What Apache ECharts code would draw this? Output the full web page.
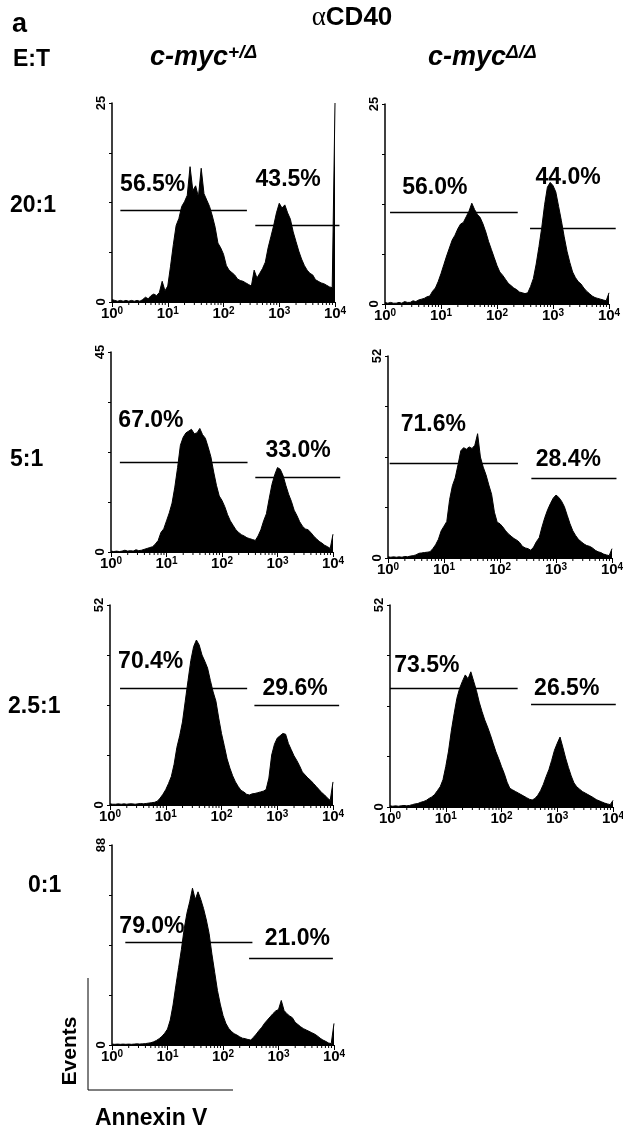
<!DOCTYPE html>
<html><head><meta charset="utf-8">
<script src="https://cdn.jsdelivr.net/npm/echarts@6/dist/echarts.min.js"></script>
<style>html,body{margin:0;padding:0;background:#fff}#c{width:623px;height:1131px}</style>
</head><body><div id="c"></div>
<script>
// ---------------- DATA ----------------
// Annexin V channel, as log10 exponent of the bin centre (10^0 .. 10^4)
const LOG_CHANNEL = [0,0.05,0.1,0.15,0.2,0.25,0.3,0.35,0.4,0.45,0.5,0.55,0.6,0.65,0.7,0.75,0.8,0.85,0.9,0.95,
  1,1.05,1.1,1.15,1.2,1.25,1.3,1.35,1.4,1.45,1.5,1.55,1.6,1.65,1.7,1.75,1.8,1.85,1.9,1.95,
  2,2.05,2.1,2.15,2.2,2.25,2.3,2.35,2.4,2.45,2.5,2.55,2.6,2.65,2.7,2.75,2.8,2.85,2.9,2.95,
  3,3.05,3.1,3.15,3.2,3.25,3.3,3.35,3.4,3.45,3.5,3.55,3.6,3.65,3.7,3.75,3.8,3.85,3.9,3.95,4];

const X_TICK_LABELS = [0, 1, 2, 3, 4];   // 10^n
const ROW_LABELS = ['20:1', '5:1', '2.5:1', '0:1'];
const COLUMN_LABELS = ['+/Δ', 'Δ/Δ'];

// Events per channel
const EV_20_HET = [0.3,0.2,0.1,0.2,0.1,0.2,0.1,0.2,0.1,0.2,
  0.1,0.3,0.6,0.4,0.8,1.0,0.8,1.2,2.6,1.4,
  2.0,4.5,7.2,9.6,10.5,12.0,12.6,13.4,17.0,14.0,
  14.6,13.2,16.8,13.6,12.8,12.0,10.8,9.4,7.4,6.8,
  6.0,4.6,4.0,3.7,3.4,2.9,2.7,2.6,2.4,2.2,
  2.0,4.0,3.0,3.6,4.2,5.0,6.8,8.2,9.6,11.2,
  12.4,11.8,12.2,11.2,10.4,8.8,7.6,6.4,5.4,4.6,
  4.0,3.6,3.4,2.8,2.6,2.4,2.3,2.1,1.9,1.8,
  25];
const EV_20_KO = [0.2,0.1,0.2,0.1,0.1,0.2,0.1,0.3,0.2,0.2,
  0.4,0.3,0.5,0.6,0.7,0.9,1.0,1.6,2.0,2.8,
  3.8,4.9,6.0,7.0,8.0,8.6,9.4,10.0,10.2,10.9,
  11.6,12.6,11.8,11.2,10.8,10.0,9.0,7.8,6.8,5.8,
  4.8,4.0,3.6,3.1,2.6,2.3,2.0,1.8,1.5,1.4,
  1.3,1.4,2.2,3.2,5.0,7.2,9.6,12.4,14.6,15.2,
  14.8,14.0,12.2,10.4,8.4,6.6,5.2,4.0,3.3,2.8,
  2.5,2.0,1.6,1.3,1.0,0.8,0.7,0.6,0.5,0.4,
  1.4];
const EV_5_HET = [0.2,0.1,0.2,0.1,0.2,0.4,0.2,0.3,0.2,0.5,
  0.3,0.4,0.6,0.8,1.0,1.2,1.8,2.6,4.4,5.2,
  7.0,8.8,11.0,14.6,19.0,24.0,25.8,26.8,27.2,27.6,
  26.6,26.8,27.8,26.4,25.6,23.6,21.4,18.0,15.0,12.6,
  11.6,10.2,8.4,7.0,6.0,5.0,4.4,3.9,3.6,3.2,
  3.0,2.8,2.6,3.6,5.0,7.0,8.6,12.0,15.2,17.4,
  19.0,18.6,17.2,15.0,13.0,11.4,9.4,8.2,6.8,5.8,
  5.2,5.0,4.4,3.6,3.0,2.4,2.0,1.5,1.2,0.8,
  4.0];
const EV_5_KO = [0.3,0.2,0.3,0.2,0.3,0.2,0.4,0.3,0.5,0.6,
  0.8,1.2,1.3,1.4,1.5,1.6,2.4,3.4,4.8,7.0,
  8.2,9.4,15.0,18.6,20.6,24.0,27.6,28.4,28.0,28.6,
  28.2,29.0,32.0,26.0,23.4,21.4,18.8,16.4,11.8,9.2,
  8.8,8.0,7.0,6.2,5.6,5.0,4.6,4.0,3.0,2.6,
  2.4,2.0,2.8,4.2,5.2,8.0,10.4,12.4,14.0,15.4,
  16.2,15.6,14.6,13.2,11.0,8.8,7.0,5.8,4.8,4.2,
  3.6,3.2,3.0,2.6,2.0,1.6,1.4,1.0,0.8,0.6,
  2.4];
const EV_25_HET = [0.3,0.2,0.2,0.3,0.2,0.3,0.2,0.3,0.3,0.2,
  0.3,0.4,0.3,0.4,0.5,0.6,0.7,1.0,1.8,2.8,
  4.0,5.6,7.4,10.6,15.0,18.0,21.6,27.0,32.4,37.6,
  41.2,42.9,41.6,39.0,37.4,35.6,32.4,29.4,27.0,22.6,
  18.6,15.4,12.0,9.6,7.6,6.0,4.8,3.8,3.4,2.8,
  2.6,2.9,3.0,3.2,3.4,3.6,4.0,7.0,13.0,15.8,
  17.4,18.0,18.6,18.4,16.0,14.4,12.8,11.6,10.2,8.6,
  7.8,7.0,6.4,5.6,4.8,4.0,3.2,2.6,1.8,1.2,
  6.0];
const EV_25_KO = [0.3,0.2,0.3,0.2,0.3,0.4,0.3,0.4,0.6,0.8,
  0.9,1.2,1.4,1.7,2.2,2.6,3.2,4.2,5.2,7.0,
  10.4,14.4,19.6,24.0,28.0,30.6,32.4,34.0,33.0,34.8,
  32.4,30.0,27.0,24.6,22.4,20.6,18.6,16.4,14.2,12.4,
  10.4,8.6,6.4,4.8,4.4,4.0,3.6,3.2,2.8,2.4,
  2.0,1.8,2.2,3.0,4.2,5.8,7.8,9.6,12.0,14.6,
  16.4,18.0,15.4,12.6,10.2,8.0,6.2,5.2,4.6,4.0,
  3.6,3.2,2.8,2.4,1.9,1.6,1.3,1.0,0.8,0.6,
  1.7];
const EV_0_HET = [0.4,0.3,0.4,0.3,0.4,0.3,0.4,0.3,0.4,0.5,
  0.4,0.5,0.6,0.8,1.0,1.4,2.0,2.8,3.8,5.2,
  7.0,11.0,17.6,26.0,34.0,42.0,51.0,58.0,63.0,69.0,
  64.0,67.4,64.0,60.0,55.0,49.0,40.0,32.0,24.0,18.0,
  13.0,9.6,7.4,6.0,5.0,4.4,3.6,3.0,2.8,2.4,
  2.2,3.4,4.8,6.4,7.8,9.6,11.0,12.4,13.8,15.0,
  15.6,19.6,15.2,13.8,12.8,12.0,10.0,9.0,8.0,7.2,
  6.6,6.0,5.4,4.8,4.0,3.0,2.2,1.6,0.9,0.6,
  9.5];

// Y axis maxima (Events)
const Y_MAX = [25, 25, 45, 52, 52, 52, 88];
// Gates: [start exponent, end exponent, height in events]
const GATE_LOW = [[0.15,2.42,11.55],[0.09,2.37,11.5],[0.16,2.46,20.3],[0.03,2.32,24.5],[0.18,2.46,30.3],[0.0,2.29,30.6],[0.24,2.53,45]];
const GATE_HIGH = [[2.57,4.08,9.6],[2.59,4.12,9.5],[2.6,4.13,16.9],[2.56,4.08,20.5],[2.59,4.11,26.0],[2.53,4.05,26.5],[2.47,3.98,38.1]];
// Gate percentages
const PCT_LOW = ['56.5%','56.0%','67.0%','71.6%','70.4%','73.5%','79.0%'];
const PCT_HIGH = ['43.5%','44.0%','33.0%','28.4%','29.6%','26.5%','21.0%'];

// ---------------- LAYOUT ----------------
const HISTS = [EV_20_HET, EV_20_KO, EV_5_HET, EV_5_KO, EV_25_HET, EV_25_KO, EV_0_HET];
const GRID_BOX = [[112,103,223,199],[385,104,224,200],[111,352,222,200],[388,356,224,202],[110,605,223,200],[390,605,223,202],[112,845,222,200]];
// label anchor (exponent, events) for the two percentages
const LBL_LOW_AT = [[0.73,14.7],[0.89,14.6],[0.72,29.6],[0.81,34.2],[0.73,37.3],[0.66,36.3],[0.72,52]];
const LBL_HIGH_AT = [[3.16,15.4],[3.27,15.8],[3.37,22.9],[3.22,25.2],[3.32,30.3],[3.17,30.5],[3.34,46.9]];

const FONT = '"Liberation Sans", Arial, Helvetica, sans-serif';
const pw = e => Math.pow(10, e);

const grids = [], xAxes = [], yAxes = [], series = [];
HISTS.forEach((hist, i) => {
  const [l, t, w, h] = GRID_BOX[i];
  grids.push({left: l, top: t, width: w, height: h, containLabel: false, outerBoundsMode: 'none'});
  xAxes.push({
    type: 'log', logBase: 10, min: 1, max: 10000, gridIndex: i,
    axisLine: {show: true, lineStyle: {color: '#000', width: 1}},
    axisTick: {show: true, length: 5, lineStyle: {color: '#000', width: 1}},
    splitLine: {show: false},
    axisLabel: {
      margin: 4, color: '#000', fontFamily: FONT, fontWeight: 'bold', fontSize: 15,
      formatter: v => '10{s|' + X_TICK_LABELS[Math.round(Math.log10(v))] + '}',
      rich: {s: {fontSize: 10, fontWeight: 'bold', fontFamily: FONT, color: '#000', verticalAlign: 'top', lineHeight: 10}}
    }
  });
  const ym = Y_MAX[i];
  yAxes.push({
    type: 'value', min: 0, max: ym, interval: ym / 4, gridIndex: i,
    axisLine: {show: true, lineStyle: {color: '#000', width: 1.5}},
    axisTick: {show: true, length: 3, lineStyle: {color: '#000', width: 1}},
    splitLine: {show: false},
    axisLabel: {
      rotate: 90, margin: 4, color: '#000', fontFamily: FONT, fontWeight: 'bold', fontSize: 13,
      showMinLabel: true, showMaxLabel: true,
      formatter: v => (v === 0 || Math.abs(v - ym) < 1e-9) ? String(v) : ''
    }
  });
  series.push({
    type: 'line', xAxisIndex: i, yAxisIndex: i, symbol: 'none',
    data: LOG_CHANNEL.map((e, k) => [pw(e), hist[k]]),
    lineStyle: {color: '#000', width: 1}, areaStyle: {color: '#000', opacity: 1},
    silent: true, animation: false, z: 2
  });
  // logarithmic minor ticks of the Annexin V axis (2..9 x 10^n)
  series.push({
    type: 'custom', xAxisIndex: i, yAxisIndex: i, clip: false, data: [0], silent: true, animation: false, z: 1,
    renderItem: (params, api) => {
      const children = [];
      for (let d = 0; d < 4; d++) {
        for (let m = 2; m <= 9; m++) {
          const p = api.coord([m * pw(d), 0]);
          children.push({type: 'line', shape: {x1: p[0], y1: p[1], x2: p[0], y2: p[1] + 3}, style: {stroke: '#000', lineWidth: 1}});
        }
      }
      return {type: 'group', children: children};
    }
  });
  const gates = [GATE_LOW[i], GATE_HIGH[i]];
  series.push({
    type: 'lines', coordinateSystem: 'cartesian2d', xAxisIndex: i, yAxisIndex: i, clip: false,
    data: gates.map(g => ({coords: [[pw(g[0]), g[2]], [pw(g[1]), g[2]]]})),
    lineStyle: {color: '#000', width: 1.4, opacity: 1}, silent: true, animation: false, z: 3
  });
  const texts = [PCT_LOW[i], PCT_HIGH[i]];
  series.push({
    type: 'custom', xAxisIndex: i, yAxisIndex: i, clip: false, silent: true, animation: false, z: 4,
    data: [[pw(LBL_LOW_AT[i][0]), LBL_LOW_AT[i][1]], [pw(LBL_HIGH_AT[i][0]), LBL_HIGH_AT[i][1]]],
    renderItem: (params, api) => {
      const p = api.coord([api.value(0), api.value(1)]);
      return {type: 'text', x: p[0], y: p[1], style: {text: texts[params.dataIndex], fill: '#000',
        font: 'bold 23px ' + FONT, textAlign: 'center', textVerticalAlign: 'middle'}};
    }
  });
});

const txt = (x, y, text, size, extra) => ({
  type: 'text', x: x, y: y,
  style: Object.assign({text: text, fill: '#000', font: 'bold ' + size + 'px ' + FONT, textVerticalAlign: 'middle'}, extra || {})
});
const mycRich = {
  m: {fontFamily: FONT, fontWeight: 'bold', fontStyle: 'italic', fontSize: 27, fill: '#000', lineHeight: 30},
  s: {fontFamily: FONT, fontWeight: 'bold', fontStyle: 'italic', fontSize: 19, fill: '#000', verticalAlign: 'top', lineHeight: 19}
};

const graphic = [
  txt(12, 25, 'a', 27),
  {type: 'text', x: 352, y: 18, style: {text: '{g|α}{b|CD40}', textAlign: 'center', textVerticalAlign: 'middle',
    rich: {g: {fontFamily: '"Liberation Serif", serif', fontSize: 27, fill: '#000'}, b: {fontFamily: FONT, fontWeight: 'bold', fontSize: 26, fill: '#000'}}}},
  txt(13, 60, 'E:T', 23),
  {type: 'text', x: 150, y: 58, style: {text: '{m|c-myc}{s|' + COLUMN_LABELS[0] + '}', textVerticalAlign: 'middle', rich: mycRich}},
  {type: 'text', x: 428, y: 58, style: {text: '{m|c-myc}{s|' + COLUMN_LABELS[1] + '}', textVerticalAlign: 'middle', rich: mycRich}},
  txt(10, 206, ROW_LABELS[0], 23),
  txt(10, 460, ROW_LABELS[1], 23),
  txt(8, 707, ROW_LABELS[2], 23),
  txt(28, 886, ROW_LABELS[3], 23),
  {type: 'polyline', shape: {points: [[88, 978], [88, 1090], [233, 1090]]}, style: {stroke: '#000', lineWidth: 1, fill: null}},
  {type: 'text', x: 70, y: 1051, rotation: Math.PI / 2, style: {text: 'Events', fill: '#000', font: 'bold 21px ' + FONT, textAlign: 'center', textVerticalAlign: 'middle'}},
  {type: 'text', x: 95, y: 1119, style: {text: 'Annexin V', fill: '#000', font: 'bold 23px ' + FONT, textVerticalAlign: 'middle'}}
];

const chart = echarts.init(document.getElementById('c'), null, {renderer: 'canvas'});
chart.setOption({animation: false, grid: grids, xAxis: xAxes, yAxis: yAxes, series: series, graphic: graphic});
</script></body></html>
